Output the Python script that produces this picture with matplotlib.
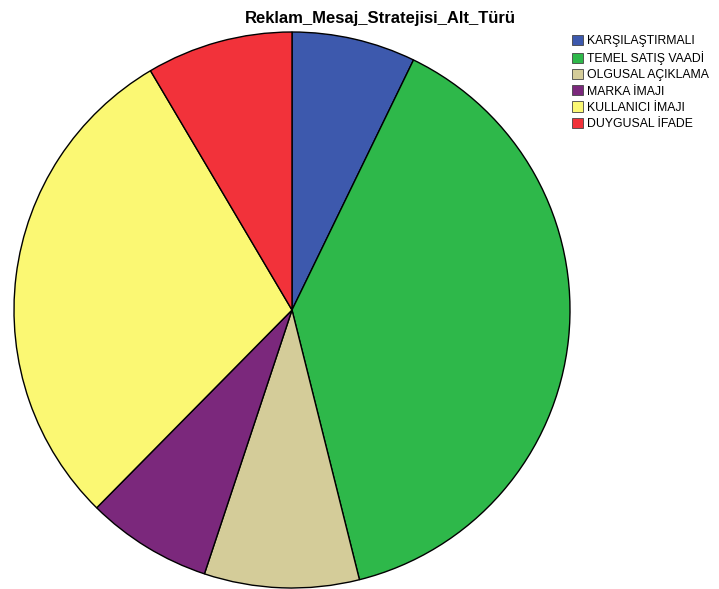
import matplotlib
matplotlib.use("Agg")
import matplotlib.pyplot as plt
from matplotlib.patches import Patch

plt.rcParams['font.family'] = ['Liberation Sans', 'DejaVu Sans']

categories = ["KARŞILAŞTIRMALI", "TEMEL SATIŞ VAADİ", "OLGUSAL AÇIKLAMA",
              "MARKA İMAJI", "KULLANICI İMAJI", "DUYGUSAL İFADE"]
values = [7.2, 38.9, 9.0, 7.3, 29.1, 8.5]
colors = ["#3d59ad", "#2eb84a", "#d4cc99", "#7b287c", "#fbf873", "#f2323a"]

fig = plt.figure(figsize=(7.19, 5.89), dpi=100)
ax = fig.add_axes([14/719, 1/589, 556/719, 556/589])
ax.pie(values, colors=colors, startangle=90, counterclock=False, radius=1.0,
       wedgeprops=dict(edgecolor="black", linewidth=1.0))
ax.set_xlim(-1.0, 1.0)
ax.set_ylim(-1.0, 1.0)
ax.set_aspect("equal")
ax.axis("off")

fig.text(380/719, 1 - 18/589, "Reklam_Mesaj_Stratejisi_Alt_Türü",
         ha="center", va="center", fontsize=12, fontweight="bold")

handles = [Patch(facecolor=c, edgecolor="#444444", linewidth=0.6) for c in colors]
fig.legend(handles, categories, loc="upper left",
           bbox_to_anchor=(572/719, 1 - 35/589), frameon=False,
           fontsize=8.8, handlelength=0.9, handleheight=0.9,
           handletextpad=0.3, labelspacing=0.32, borderpad=0, borderaxespad=0)

fig.savefig("out.png", dpi=100)
